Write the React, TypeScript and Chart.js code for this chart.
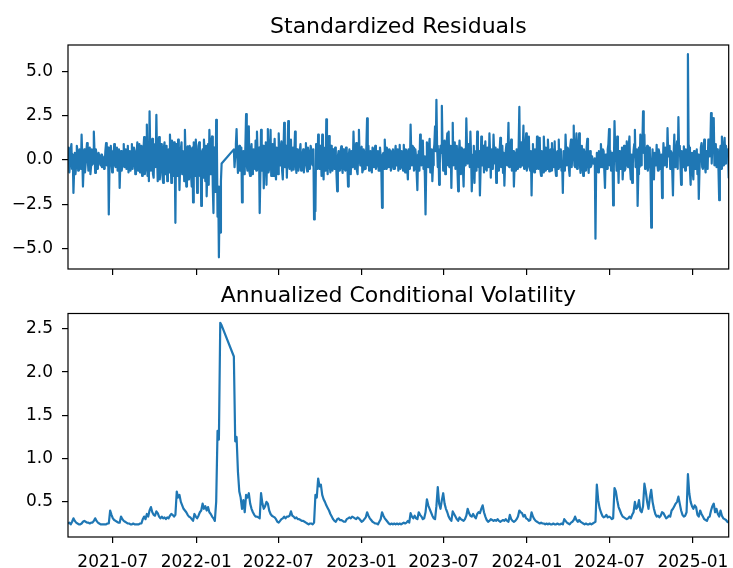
import React, { useEffect, useRef } from "react";
import { Chart, registerables } from "chart.js";

Chart.register(...registerables);

// ---------------- data ----------------
const startDate = "2021-03-24"; // first sampled trading date
const residualStepDays = 1.5; // calendar days between residual samples
const volatilityStepDays = 3; // calendar days between volatility samples

const tickLabels = ["2021-07", "2022-01", "2022-07", "2023-01", "2023-07", "2024-01", "2024-07", "2025-01"];

const residualTicks = [-5, -2.5, 0, 2.5, 5];
const volatilityTicks = [0.5, 1.0, 1.5, 2.0, 2.5];

const residuals: (number | null)[] = [
  0.3, 0.7, -0.7, -0.2, 0.6, 0.9, -0.5, 0.3, -1.86, -0.6, 0.4, -0.8, -0.3, 0.8, 0.5, -0.6, -0.4, 0.6, 0.2, -0.5,
  1.43, 0.2, -1.5, -0.4, 0.6, -0.7, -0.2, 0.5, 0.95, 0.1, -0.6, 0.3, 0.7, -0.8, -0.3, 0.6, 0.4, -0.2, 1.6, 0.5,
  -0.73, 0.6, 0.3, -0.5, -0.1, 0.4, 0.2, -0.2, -0.3, 0.3, -0.4, 0.2, 0.1, -0.5, -0.2, 0.5, 0.95, -0.3, 0.2, 0.7,
  -3.08, -0.4, 0.3, 0.8, -0.2, -0.7, 0.5, 0.2, 0.9, -0.3, -0.4, 0.4, 0.7, -0.6, 0.1, 0.6, -1.58, -0.2, 0.5, -0.6,
  -0.3, 0.5, 0.9, -0.4, 0.2, 0.6, -0.5, 0.3, 0.8, -0.7, 0.1, 0.5, -0.6, 0.2, 0.9, -0.5, -0.2, 0.7, 0.5, -0.8,
  -0.55, 0.4, 1.0, -0.6, 0.3, 0.9, -0.7, 0.2, 0.8, -0.9, -0.2, 0.6, 1.3, -0.8, -0.5, 1.1, 2.0, -0.9, 0.4, -1.2,
  2.75, 0.5, -0.6, 0.9, 1.2, -0.8, -1.0, 0.6, 0.9, -0.4, 2.55, 0.3, -1.2, 0.8, 1.3, -1.1, -0.5, 0.9, 0.8, -0.9,
  -1.3, 0.7, 1.0, -0.8, 0.3, 0.8, -1.2, 0.5, 0.6, -0.7, 1.43, 0.2, -1.3, 1.1, 0.4, -0.9, 1.0, 0.3, -3.55, 0.9,
  0.5, -0.9, 1.15, 0.4, -1.7, -0.3, 0.6, 1.0, -0.8, 0.5, 0.3, -1.2, 1.7, 0.2, -1.5, 0.6, 0.77, -1.1, -0.4, 0.8,
  0.6, -0.8, -1.5, 0.7, -2.4, 1.0, 0.4, -0.9, 1.15, 0.3, -1.86, -0.5, 0.8, 1.0, -0.9, 0.5, -2.6, -1.3, 0.6, -1.0,
  1.15, 0.4, -1.2, 0.8, -2.05, -0.6, 0.9, -1.4, 1.7, 0.6, -0.8, 1.0, 1.33, -1.5, -3.0, 0.7, 0.5, -1.8, 2.27, 1.0,
  -3.2, -1.5, -5.5, -2.0, -4.1, -1.2, -0.2, null, null, null, null, null, null, null, null, null, null, null, null, null,
  null, null, null, null, 0.6, -0.4, 0.2, 0.9, 1.75, 0.3, -0.73, 0.5, 0.8, -0.6, -0.3, 0.7, -2.4, -0.5, 0.5, -0.8,
  -0.4, 0.8, 2.6, -0.3, -0.6, 0.9, 1.9, -0.7, -0.9, 0.5, 0.9, -0.8, -0.7, 0.6, 0.4, -0.5, 1.1, -0.6, 1.6, 0.3,
  -0.5, 0.7, -3.0, -0.8, 1.7, -0.6, 0.2, 0.8, -1.6, -0.3, 0.6, 1.0, -1.4, 0.4, 1.75, -0.7, -0.5, 0.6, 1.7, -0.9,
  0.3, 0.9, -0.9, 0.4, 1.2, -0.5, -1.1, 0.7, 0.4, -0.8, 1.5, 0.2, -0.3, 0.6, 1.05, -0.6, -1.1, 0.5, 2.1, -0.4,
  0.3, 0.8, -1.0, 0.6, 2.2, -0.3, -0.5, 0.8, 1.15, -0.6, 0.2, 0.7, -0.55, 0.4, 1.6, -0.2, -0.73, 0.6, 0.5, -0.6,
  -0.3, 0.5, 0.9, -0.6, -0.4, 0.3, 0.6, -0.7, -0.2, 0.4, 0.95, -0.3, -0.65, 0.7, 0.4, -0.5, -0.4, 0.8, 0.6, -0.2,
  -0.3, 0.6, -3.36, -1.0, -2.9, 0.9, 0.4, -0.5, 1.43, 0.2, -0.5, 0.8, 0.6, -0.9, 1.43, 0.3, -1.1, 0.5, 0.7, -0.6,
  2.3, 0.4, -0.8, 0.9, 1.35, -0.3, -0.7, 0.8, 0.2, -0.6, 0.6, -0.2, -0.5, 0.7, 0.3, -0.8, -1.77, 0.2, 0.5, -0.6,
  -0.3, 0.5, 0.77, -0.4, -0.73, 0.6, 0.4, -0.5, -0.6, 0.7, 0.55, -0.3, -1.5, 0.2, 0.6, -0.6, -0.8, 0.5, 0.4, -0.4,
  1.6, 0.3, -0.5, 0.7, 0.95, -0.6, -0.8, 0.5, 1.7, 0.2, -0.3, 0.6, 0.75, -0.7, -0.55, 0.6, 0.4, -0.5, -0.2, 0.8,
  2.35, -0.3, 0.8, -0.6, -0.55, 0.5, 0.3, -0.7, 0.7, 0.2, -0.4, 0.6, 0.8, -0.5, -0.3, 0.4, 0.5, -0.6, -0.6, 0.7,
  0.2, -0.6, -2.7, 0.3, 0.4, -0.5, 1.15, 0.2, -0.5, 0.7, 0.6, -0.3, -0.4, 0.6, 0.5, -0.6, -0.3, 0.4, 0.6, -0.5,
  -0.5, 0.4, 0.8, -0.3, 0.1, 0.6, -0.6, 0.3, 0.85, -0.5, -0.4, 0.5, 0.3, -0.6, 0.85, 0.1, -0.7, 0.6, 0.5, -0.4,
  -1.1, 0.6, 0.3, -0.5, 2.0, 0.4, -0.3, 0.8, 0.7, -0.6, -0.5, 0.6, 0.2, -0.8, -1.7, 0.3, 0.5, -0.6, 1.43, 0.2,
  -0.3, 0.7, 1.1, -0.5, 0.2, -0.9, -3.08, -0.4, 1.0, 0.3, -0.4, 0.8, 1.2, -0.7, 0.3, 0.6, -1.2, -0.3, 0.5, 0.9,
  1.9, 0.5, 3.4, 0.8, -0.4, 0.6, -1.4, -0.2, 0.8, 0.4, 3.06, 0.7, -0.6, 0.5, 1.1, -0.8, -0.4, 0.9, 1.5, -0.3,
  1.6, -0.4, 0.3, 0.8, -1.58, 0.5, 2.1, -0.3, 0.6, 1.0, -0.5, 0.4, 0.8, -0.6, -1.77, 0.3, 1.1, 0.2, -0.8, 0.7,
  0.6, -0.5, -1.5, 0.6, 0.4, -0.3, 2.35, 0.7, -0.2, 0.9, 0.7, -0.4, 1.6, 0.3, -1.77, -0.6, 0.3, 0.8, -1.3, 0.2,
  0.5, -0.6, 1.6, 0.7, -0.4, 0.5, -2.0, -0.5, 1.33, -0.3, 0.2, 0.8, -0.7, 0.4, 1.05, -0.5, -0.6, 0.7, 0.4, -0.4,
  1.5, 0.3, -1.0, 0.6, 0.3, -0.5, 1.43, 0.4, -0.2, 0.7, -1.3, -0.3, 0.6, -0.6, -0.4, 0.5, 1.25, -0.4, 0.2, 0.8,
  -0.73, 0.4, -1.45, -0.2, 0.5, 0.9, -0.3, 0.6, 2.1, -0.4, 0.3, 0.7, 1.15, -0.6, -0.5, 0.5, -1.5, -0.3, 0.4, -0.6,
  0.6, -0.5, -0.2, 0.8, 3.0, -0.4, 0.6, 1.0, -0.3, 0.5, 1.94, -0.5, 0.1, 0.7, 1.5, -0.6, -0.4, 0.6, 1.33, -0.3,
  -0.6, 0.5, -2.0, 0.3, 0.9, -0.4, -0.7, 0.6, 0.3, -0.5, 1.33, 0.2, -0.5, 0.7, 1.25, -0.6, -0.9, 0.5, 0.2, -0.7,
  1.33, 0.4, -0.6, 0.7, 0.5, -0.5, 1.15, 0.3, -0.65, 0.5, 0.6, -0.6, 0.95, 0.2, -0.4, 0.6, 1.05, -0.5, -0.9, 0.4,
  0.5, -0.5, 1.15, -0.4, 0.3, 0.6, -0.6, -0.2, -1.86, 0.5, 0.4, -0.6, 1.43, 0.3, -0.3, 0.7, 0.6, -0.5, -0.9, 0.8,
  1.15, -0.4, 0.2, 0.9, 1.94, -0.3, -0.4, 0.7, 1.5, -0.5, 0.2, 0.8, 1.5, -0.2, -0.73, 0.5, 0.8, -0.4, -0.9, 0.6,
  0.4, -0.6, -0.5, 0.7, 1.2, -0.3, -0.73, 0.4, 0.5, -0.4, -0.3, 0.2, 0.2, -0.2, -0.1, 0.1, -4.45, -0.5, 0.4, -0.6,
  -0.7, 0.5, 0.3, -0.4, 0.9, 0.2, -0.4, 0.6, 0.5, -0.6, -1.58, 0.3, 0.3, -0.5, 0.6, 0.9, 1.75, -0.3, 0.5, -0.6,
  -0.6, 0.4, -2.57, -0.5, 2.2, 0.6, 0.3, -0.6, 1.33, 0.2, -1.3, 0.5, 0.4, -0.5, 0.4, 0.7, -1.1, -0.3, 0.8, -0.6,
  -0.5, 0.6, 1.05, -0.3, -0.4, 0.8, 1.33, -0.5, -1.1, 0.3, -1.3, -0.2, 0.5, 0.9, 1.7, -0.4, -0.3, 0.6, -2.6, -0.8,
  0.7, -0.4, 1.43, -0.3, 0.3, 0.9, 2.75, 0.4, 1.43, -0.5, -0.35, 0.6, 0.8, -0.6, -0.2, 0.7, 0.4, -0.8, -3.83, -0.4,
  0.6, -0.5, -1.1, 0.4, 0.3, -0.3, 0.86, -0.2, -0.6, 0.6, 0.4, -0.5, -0.4, 0.3, -2.15, -0.6, 0.95, 0.2, -0.3, 0.7,
  0.6, -0.4, 1.8, 0.3, 0.2, 0.8, -0.5, 0.5, 0.4, -0.7, -2.0, 0.3, 1.43, -0.4, -0.3, 0.6, 1.05, -0.5, 2.42, 0.5,
  0.8, -0.3, -1.4, 0.5, 0.3, -0.4, 0.77, 0.2, -0.6, 0.6, 0.5, -0.3, 5.98, 0.9, 0.7, -0.5, -1.4, 0.3, 0.4, -0.6,
  -1.1, 0.5, 0.2, -0.5, 0.4, 0.6, -0.8, 0.3, -2.2, -0.6, 0.3, 0.7, 0.95, -0.4, -0.5, 0.6, 1.15, -0.3, -0.7, 0.5,
  0.4, -0.5, 1.15, 0.3, 0.2, 0.8, 2.65, -0.2, 0.9, 0.4, 2.37, -0.3, 0.6, 0.9, -0.4, 0.6, 0.3, -0.6, -2.27, 0.4,
  0.8, -0.5, 1.33, 0.4, -0.3, 0.7, 1.25, -0.2, 0.8, 0.3, 0.5, 0.6, -1.0,
];

const volatility: (number | null)[] = [
  0.25, 0.26, 0.24, 0.27, 0.31, 0.28, 0.26, 0.25, 0.24, 0.24,
  0.25, 0.27, 0.28, 0.27, 0.26, 0.26, 0.25, 0.26, 0.26, 0.28,
  0.31, 0.28, 0.26, 0.25, 0.24, 0.24, 0.24, 0.24, 0.24, 0.25,
  0.25, 0.40, 0.35, 0.31, 0.29, 0.28, 0.27, 0.26, 0.26, 0.33,
  0.30, 0.28, 0.27, 0.26, 0.25, 0.25, 0.24, 0.24, 0.25, 0.24,
  0.24, 0.24, 0.24, 0.25, 0.25, 0.30, 0.33, 0.30, 0.36, 0.33,
  0.40, 0.44, 0.38, 0.35, 0.34, 0.39, 0.37, 0.33, 0.31, 0.33,
  0.31, 0.32, 0.30, 0.32, 0.31, 0.34, 0.36, 0.35, 0.33, 0.35,
  0.62, 0.55, 0.58, 0.50, 0.46, 0.42, 0.40, 0.38, 0.35, 0.33,
  0.32, 0.30, 0.28, 0.36, 0.33, 0.31, 0.34, 0.38, 0.40, 0.48,
  0.42, 0.45, 0.40, 0.44, 0.38, 0.36, 0.33, 0.31, 0.28, 0.50,
  1.32, 1.22, 2.57, 2.54, null, null, null, null, null, null,
  null, null, 2.18, 1.20, 1.25, 0.85, 0.62, 0.55, 0.42, 0.52,
  0.38, 0.58, 0.55, 0.60, 0.48, 0.42, 0.38, 0.35, 0.33, 0.33,
  0.32, 0.31, 0.60, 0.48, 0.42, 0.45, 0.50, 0.48, 0.40, 0.36,
  0.34, 0.33, 0.32, 0.30, 0.27, 0.26, 0.28, 0.30, 0.31, 0.33,
  0.31, 0.33, 0.33, 0.34, 0.39, 0.34, 0.33, 0.31, 0.32, 0.30,
  0.30, 0.29, 0.28, 0.28, 0.27, 0.26, 0.25, 0.24, 0.25, 0.25,
  0.24, 0.26, 0.58, 0.55, 0.77, 0.68, 0.70, 0.58, 0.53, 0.50,
  0.46, 0.43, 0.40, 0.36, 0.33, 0.30, 0.28, 0.27, 0.30, 0.31,
  0.29, 0.29, 0.28, 0.27, 0.27, 0.30, 0.31, 0.32, 0.31, 0.33,
  0.32, 0.31, 0.30, 0.32, 0.31, 0.29, 0.27, 0.28, 0.30, 0.32,
  0.38, 0.34, 0.31, 0.29, 0.27, 0.26, 0.25, 0.25, 0.24, 0.27,
  0.30, 0.38, 0.34, 0.31, 0.29, 0.27, 0.25, 0.24, 0.25, 0.24,
  0.25, 0.24, 0.25, 0.24, 0.25, 0.24, 0.25, 0.26, 0.25, 0.26,
  0.28, 0.26, 0.37, 0.33, 0.31, 0.34, 0.31, 0.30, 0.38, 0.35,
  0.33, 0.30, 0.31, 0.38, 0.53, 0.46, 0.42, 0.38, 0.34, 0.31,
  0.30, 0.45, 0.67, 0.48, 0.42, 0.52, 0.60, 0.48, 0.42, 0.38,
  0.33, 0.30, 0.28, 0.39, 0.36, 0.33, 0.30, 0.28, 0.32, 0.30,
  0.29, 0.28, 0.30, 0.34, 0.42, 0.37, 0.34, 0.33, 0.36, 0.33,
  0.31, 0.36, 0.38, 0.37, 0.42, 0.46, 0.38, 0.33, 0.29, 0.27,
  0.28, 0.30, 0.29, 0.28, 0.29, 0.28, 0.30, 0.28, 0.27, 0.28,
  0.29, 0.28, 0.30, 0.28, 0.27, 0.35, 0.30, 0.28, 0.27, 0.28,
  0.30, 0.33, 0.40, 0.38, 0.37, 0.33, 0.35, 0.31, 0.30, 0.28,
  0.29, 0.38, 0.33, 0.30, 0.28, 0.27, 0.26, 0.25, 0.26, 0.25,
  0.25, 0.24, 0.25, 0.24, 0.25, 0.24, 0.24, 0.25, 0.24, 0.24,
  0.25, 0.24, 0.24, 0.25, 0.24, 0.30, 0.28, 0.26, 0.25, 0.24,
  0.26, 0.27, 0.29, 0.33, 0.29, 0.27, 0.29, 0.27, 0.26, 0.25,
  0.24, 0.25, 0.24, 0.24, 0.25, 0.24, 0.25, 0.26, 0.27, 0.70,
  0.52, 0.43, 0.38, 0.34, 0.32, 0.33, 0.35, 0.32, 0.33, 0.32,
  0.30, 0.31, 0.66, 0.62, 0.52, 0.44, 0.40, 0.36, 0.33, 0.32,
  0.31, 0.30, 0.31, 0.33, 0.31, 0.35, 0.38, 0.50, 0.42, 0.44,
  0.52, 0.40, 0.38, 0.45, 0.71, 0.62, 0.50, 0.42, 0.55, 0.64,
  0.50, 0.42, 0.36, 0.33, 0.34, 0.32, 0.34, 0.38, 0.37, 0.34,
  0.31, 0.32, 0.34, 0.33, 0.40, 0.42, 0.45, 0.48, 0.50, 0.56,
  0.48, 0.40, 0.35, 0.33, 0.34, 0.38, 0.82, 0.60, 0.50, 0.45,
  0.42, 0.46, 0.44, 0.35, 0.33, 0.40, 0.36, 0.33, 0.30, 0.29,
  0.28, 0.32, 0.33, 0.40, 0.45, 0.48, 0.38, 0.42, 0.36, 0.33,
  0.40, 0.34, 0.31, 0.30, 0.29, 0.27, 0.26,
];

// ---------------- helpers ----------------
const DAY_MS = 86400000;
const dayNum = (s: string) => {
  const [y, m, d] = s.split("-").map(Number);
  return Date.UTC(y, m - 1, d || 1) / DAY_MS;
};
const startDay = dayNum(startDate);
const residualDays = residuals.map((_, i) => startDay + i * residualStepDays);
const volatilityDays = volatility.map((_, i) => startDay + i * volatilityStepDays);
const xMin = startDay;
const xMax = volatilityDays[volatilityDays.length - 1];
const tickDays = tickLabels.map((l) => dayNum(l + "-01"));

const FONT = "'DejaVu Sans', 'Liberation Sans', sans-serif";
const BLUE = "#1f77b4";
const W = 733;

const panelPlugin = {
  id: "panel",
  afterDraw(chart: any, _args: any, opts: any) {
    const { ctx, chartArea: a } = chart;
    ctx.save();
    ctx.strokeStyle = "#000";
    ctx.lineWidth = 1.2;
    ctx.strokeRect(a.left, a.top, a.right - a.left, a.bottom - a.top);
    ctx.fillStyle = "#000";
    ctx.font = `22px ${FONT}`;
    ctx.textAlign = "center";
    ctx.textBaseline = "alphabetic";
    ctx.fillText(opts.text, (a.left + a.right) / 2, a.top - 11.7);
    ctx.restore();
  },
};

const fmtTick = (v: number) => {
  const s = Number(v).toFixed(1);
  return s.startsWith("-") ? "\u2212" + s.slice(1) : s;
};

function buildConfig(
  values: (number | null)[],
  days: number[],
  title: string,
  yMin: number,
  yMax: number,
  yTicks: number[],
  showXLabels: boolean,
  padTop: number,
  xAxisHeight: number
): any {
  const gridOpts = {
    display: true,
    drawOnChartArea: false,
    drawTicks: true,
    tickLength: 6,
    color: "#000",
    lineWidth: 1.2,
  };
  return {
    type: "line",
    data: {
      datasets: [
        {
          data: values.map((v, i) => ({ x: days[i], y: v })),
          borderColor: BLUE,
          backgroundColor: BLUE,
          borderWidth: 2.2,
          pointRadius: 0,
          tension: 0,
          spanGaps: true,
          borderJoinStyle: "round",
          fill: false,
        },
      ],
    },
    options: {
      animation: false,
      responsive: false,
      devicePixelRatio: 1,
      events: [],
      layout: { padding: { left: 0, right: 4.3, top: padTop, bottom: 0 } },
      plugins: {
        legend: { display: false },
        tooltip: { enabled: false },
        title: { display: false },
        panel: { text: title },
      },
      scales: {
        x: {
          type: "linear",
          min: xMin,
          max: xMax,
          afterBuildTicks: (s: any) => {
            s.ticks = tickDays.map((v) => ({ value: v }));
          },
          afterFit: (s: any) => {
            s.height = xAxisHeight;
          },
          ticks: {
            autoSkip: false,
            maxRotation: 0,
            minRotation: 0,
            padding: 3,
            color: "#000",
            font: { family: FONT, size: 17, lineHeight: 1.9 },
            callback: (_v: any, idx: number) => (showXLabels ? tickLabels[idx] : ""),
          },
          grid: gridOpts,
          border: { display: false },
        },
        y: {
          type: "linear",
          min: yMin,
          max: yMax,
          afterBuildTicks: (s: any) => {
            s.ticks = yTicks.map((v) => ({ value: v }));
          },
          afterFit: (s: any) => {
            s.width = 68;
          },
          ticks: {
            padding: 9,
            color: "#000",
            font: { family: FONT, size: 17 },
            callback: (v: any) => fmtTick(v),
          },
          grid: gridOpts,
          border: { display: false },
        },
      },
    },
    plugins: [panelPlugin],
  };
}

export default function App() {
  const topRef = useRef<HTMLCanvasElement>(null);
  const botRef = useRef<HTMLCanvasElement>(null);

  useEffect(() => {
    const c1 = new Chart(
      topRef.current!,
      buildConfig(residuals, residualDays, "Standardized Residuals", -6.16, 6.5, residualTicks, false, 45, 21)
    );
    const c2 = new Chart(
      botRef.current!,
      buildConfig(volatility, volatilityDays, "Annualized Conditional Volatility", 0.094, 2.677, volatilityTicks, true, 38.5, 31)
    );
    return () => {
      c1.destroy();
      c2.destroy();
    };
  }, []);

  return (
    <div style={{ position: "absolute", left: 0, top: 0, width: W, height: 568, background: "#fff" }}>
      <canvas ref={topRef} width={W} height={290} style={{ position: "absolute", left: 0, top: 0, width: W, height: 290 }} />
      <canvas ref={botRef} width={W} height={293} style={{ position: "absolute", left: 0, top: 275, width: W, height: 293 }} />
    </div>
  );
}
